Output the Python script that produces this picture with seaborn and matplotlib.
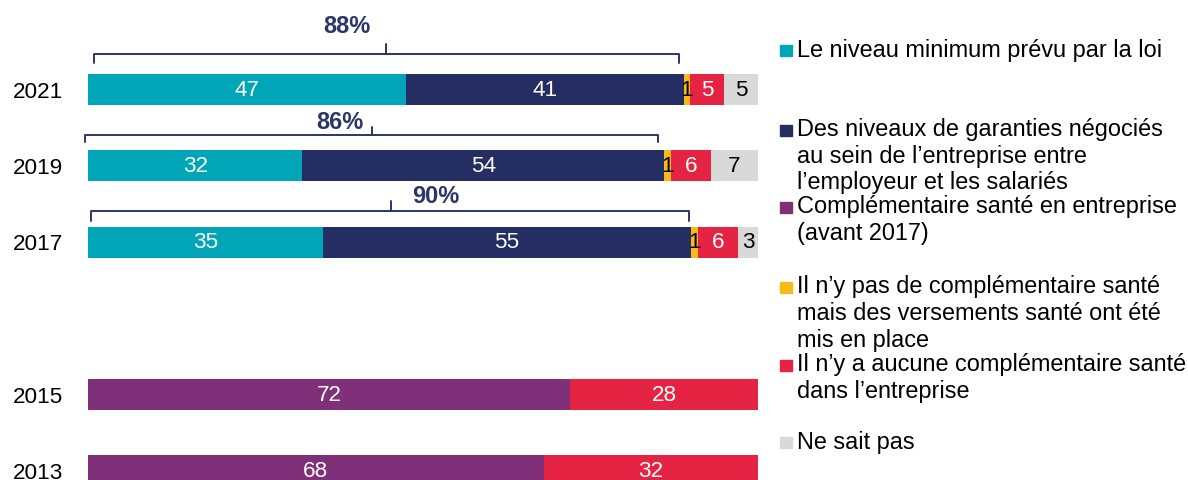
import numpy as np
import pandas as pd
import matplotlib
matplotlib.use("Agg")
import matplotlib.pyplot as plt
import seaborn as sns
from matplotlib.patches import Rectangle

# ---------------- data ----------------
years = ["2021", "2019", "2017", "2015", "2013"]
series_names = [
    "Le niveau minimum prévu par la loi",
    "Des niveaux de garanties négociés\nau sein de l’entreprise entre\nl’employeur et les salariés",
    "Complémentaire santé en entreprise\n(avant 2017)",
    "Il n’y pas de complémentaire santé\nmais des versements santé ont été\nmis en place",
    "Il n’y a aucune complémentaire santé\ndans l’entreprise",
    "Ne sait pas",
]
minimum_legal = [47, 32, 35, 0, 0]
negotiated = [41, 54, 55, 0, 0]
before_2017 = [0, 0, 0, 72, 68]
payments_only = [1, 1, 1, 0, 0]
no_coverage = [5, 6, 6, 28, 32]
dont_know = [5, 7, 3, 0, 0]
bracket_years = ["2021", "2019", "2017"]

# ---------------- styles ----------------
colors = ["#00A6B7", "#252E62", "#7F3079", "#FBB917", "#E52444", "#D9D9D9"]
label_colors = ["white", "white", "white", "black", "white", "black"]
navy = "#2B3568"

sns.set_theme(style="white")
plt.rcParams["font.family"] = ["Liberation Sans", "DejaVu Sans"]

W, H = 1188, 480
fig = plt.figure(figsize=(W / 100, H / 100), dpi=100)
ax = fig.add_axes([88 / W, 0, 670 / W, 1])

values = np.array([minimum_legal, negotiated, before_2017, payments_only,
                   no_coverage, dont_know], dtype=float)
totals = values.sum(axis=0)
shares = values / totals * 100
cum = shares.cumsum(axis=0)

order = ["2021", "2019", "2017", " ", "2015", "2013"]
df = pd.DataFrame({"year": years})
for i in range(len(series_names)):
    df[f"c{i}"] = cum[i]

bar_h = 0.407
for i in reversed(range(len(series_names))):
    sns.barplot(data=df, x=f"c{i}", y="year", order=order, orient="h",
                color=colors[i], saturation=1, width=bar_h, errorbar=None,
                linewidth=0, ax=ax)

# value labels
for j, yr in enumerate(years):
    pos = order.index(yr)
    for i in range(len(series_names)):
        v = values[i, j]
        if v > 0:
            cx = cum[i, j] - shares[i, j] / 2
            ax.text(cx, pos + 0.01, f"{int(v)}", ha="center", va="center",
                    color=label_colors[i], fontsize=16.2)

ax.set_xlim(0, 100)
ax.set_ylim(5.121, -1.174)
ax.set_xticks([])
ax.set_xlabel("")
ax.set_ylabel("")
ax.set_yticks(range(len(order)))
ax.set_yticklabels(order, fontsize=16.2, color="black")
ax.tick_params(axis="y", left=False, pad=12)
sns.despine(ax=ax, left=True, bottom=True)

# brackets (layout)
brk_x0 = [0.9, -0.45, 0.45]
brk_x1 = [88.2, 85.1, 89.7]
brk_tick = [44.5, 42.4, 45.2]
brk_lab_x = [38.7, 37.6, 51.9]
brk_y = [-0.47, -0.405, -0.405]
brk_end = [-0.353, -0.314, -0.275]
brk_top = [-0.60, -0.51, -0.536]
brk_lab_y = [-0.83, -0.57, -0.595]
for k, yr in enumerate(bracket_years):
    j = years.index(yr)
    pos = order.index(yr)
    total = int(values[0, j] + values[1, j])
    yb = pos + brk_y[k]
    ye = pos + brk_end[k]
    yt = pos + brk_top[k]
    ax.plot([brk_x0[k], brk_x0[k], brk_x1[k], brk_x1[k]], [ye, yb, yb, ye],
            color=navy, lw=1.4, clip_on=False, solid_joinstyle="round")
    ax.plot([brk_tick[k], brk_tick[k]], [yb, yt], color=navy, lw=1.4,
            clip_on=False)
    ax.text(brk_lab_x[k], pos + brk_lab_y[k], f"{total}%", ha="center",
            va="center", color=navy, fontsize=17, fontweight="bold")

# legend (manual layout)
leg_first_y = [50, 130, 207, 287, 365, 442]
line_step = 26.5
for i, name in enumerate(series_names):
    y0 = leg_first_y[i]
    fig.patches.append(Rectangle((780 / W, 1 - (y0 + 6) / H), 11.5 / W, 11.5 / H,
                                 transform=fig.transFigure, color=colors[i]))
    for li, line in enumerate(name.split("\n")):
        fig.text(797 / W, 1 - (y0 + li * line_step) / H, line, ha="left",
                 va="center", fontsize=16.9, color="black")

fig.savefig("out.png", dpi=100)
